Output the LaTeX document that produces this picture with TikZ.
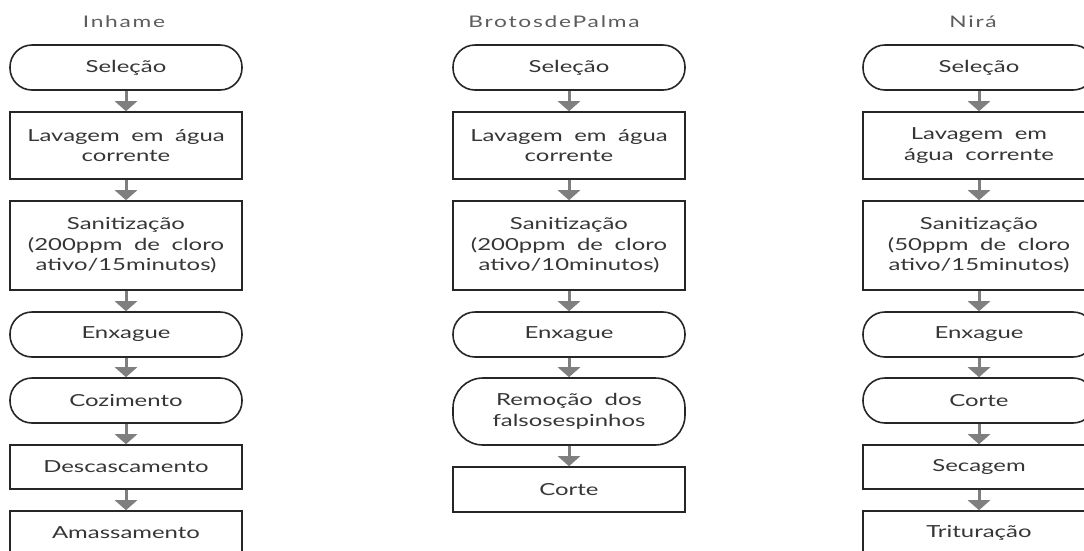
\documentclass[tikz,border=0pt]{standalone}
\usepackage{fontspec}
\setmainfont{Lato}[FakeStretch=1.44,WordSpace=1.9]
\newfontfamily\titlefont{Lato}[FakeStretch=1.42,LetterSpace=11]
\usepackage{xcolor}
\definecolor{boxline}{HTML}{262626}
\definecolor{boxtext}{HTML}{363636}
\definecolor{flowgray}{HTML}{7F7F7F}
\definecolor{headgray}{HTML}{5C5C5C}
\usepackage{tikz}
\usetikzlibrary{arrows.meta}

\begin{document}
\begin{tikzpicture}[x=1pt, y=1pt,
  every node/.style={font=\fontsize{16.6}{20.5}\selectfont, text=boxtext},
  stepbox/.style={draw=boxline, line width=1.6pt, minimum width=232pt, inner sep=0pt, align=center},
  endbox/.style={stepbox, rounded corners=22pt},
  heading/.style={font=\titlefont\fontsize{16}{19}\selectfont, text=headgray},
  flow/.style={draw=flowgray, line width=3pt, -{Triangle[length=10pt, width=22pt]}}]
  \useasboundingbox (0,0) rectangle (1084,-550);

  % Inhame
  \node[heading] (inhTitle) at (124,-22) {Inhame};
  \node[endbox, minimum height=45pt] (i1) at (126,-67.5) {Seleção};
  \node[stepbox, minimum height=67pt] (i2) at (126,-145.5) {Lavagem em água\\corrente};
  \node[stepbox, minimum height=89pt] (i3) at (126,-245.5) {Sanitização\\(200ppm de cloro\\ativo/15minutos)};
  \node[endbox, minimum height=45pt] (i4) at (126,-334.5) {Enxague};
  \node[endbox, minimum height=45pt] (i5) at (126,-400.5) {Cozimento};
  \node[stepbox, minimum height=44pt] (i6) at (126,-467) {Descascamento};
  \node[stepbox, minimum height=44pt] (i7) at (126,-533) {Amassamento};

  % Brotos de palma
  \node[heading] (palTitle) at (554,-22) {BrotosdePalma};
  \node[endbox, minimum height=45pt] (b1) at (569,-67.5) {Seleção};
  \node[stepbox, minimum height=67pt] (b2) at (569,-145.5) {Lavagem em água\\corrente};
  \node[stepbox, minimum height=89pt] (b3) at (569,-245.5) {Sanitização\\(200ppm de cloro\\ativo/10minutos)};
  \node[endbox, minimum height=45pt] (b4) at (569,-334.5) {Enxague};
  \node[endbox, minimum height=67pt, rounded corners=30pt] (b5) at (569,-411.5) {Remoção dos\\falsosespinhos};
  \node[stepbox, minimum height=45pt] (b6) at (569,-489.5) {Corte};

  % Nira
  \node[heading] (nirTitle) at (973,-22) {Nirá};
  \node[endbox, minimum height=45pt] (n1) at (979,-67.5) {Seleção};
  \node[stepbox, minimum height=67pt] (n2) at (979,-145.5) {Lavagem em\\água corrente};
  \node[stepbox, minimum height=89pt] (n3) at (979,-245.5) {Sanitização\\(50ppm de cloro\\ativo/15minutos)};
  \node[endbox, minimum height=45pt] (n4) at (979,-334.5) {Enxague};
  \node[endbox, minimum height=45pt] (n5) at (979,-400.5) {Corte};
  \node[stepbox, minimum height=44pt] (n6) at (979,-467) {Secagem};
  \node[stepbox, minimum height=44pt] (n7) at (979,-533) {Trituração};

  \foreach \a/\b in {i1/i2,i2/i3,i3/i4,i4/i5,i5/i6,i6/i7,
                     b1/b2,b2/b3,b3/b4,b4/b5,b5/b6,
                     n1/n2,n2/n3,n3/n4,n4/n5,n5/n6,n6/n7}
    \draw[flow] (\a) -- (\b);
\end{tikzpicture}
\end{document}
